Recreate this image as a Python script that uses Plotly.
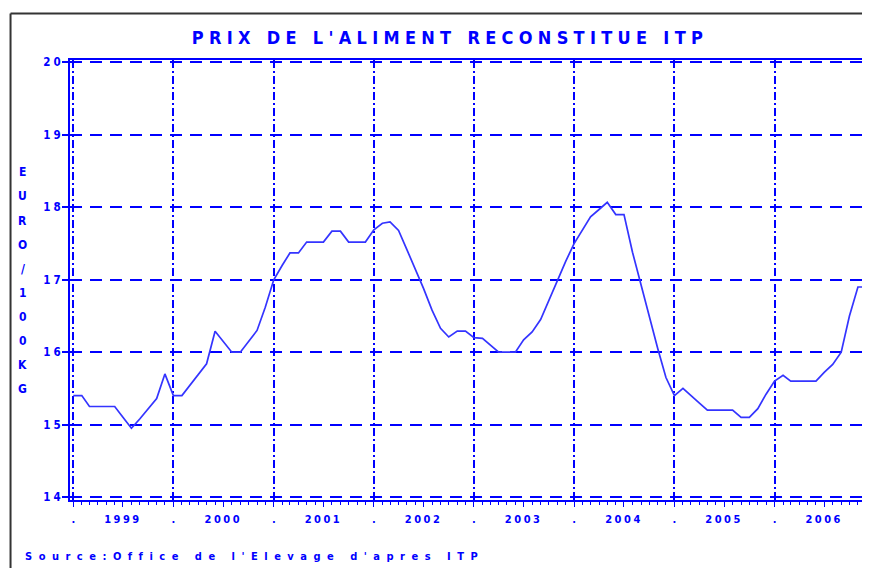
import pandas as pd
import plotly.graph_objects as go

# ---- data (monthly, Jan 1999 .. Dec 2006), EURO / 100 KG ----
months = pd.date_range("1999-01-01", periods=96, freq="MS")
prices = [
    15.40, 15.40, 15.25, 15.25, 15.25, 15.25, 15.10, 14.95, 15.08, 15.22, 15.36, 15.70,  # 1999
    15.40, 15.40, 15.54, 15.69, 15.84, 16.29, 16.15, 16.00, 16.00, 16.15, 16.30, 16.62,  # 2000
    17.00, 17.20, 17.37, 17.37, 17.52, 17.52, 17.52, 17.67, 17.67, 17.52, 17.52, 17.52,  # 2001
    17.69, 17.78, 17.80, 17.68, 17.42, 17.15, 16.88, 16.58, 16.33, 16.21, 16.29, 16.29,  # 2002
    16.20, 16.19, 16.10, 16.00, 16.00, 16.00, 16.17, 16.28, 16.45, 16.72, 17.00, 17.25,  # 2003
    17.50, 17.70, 17.87, 17.97, 18.07, 17.90, 17.90, 17.38, 16.93, 16.50, 16.05, 15.65,  # 2004
    15.40, 15.50, 15.40, 15.30, 15.20, 15.20, 15.20, 15.20, 15.10, 15.10, 15.22, 15.42,  # 2005
    15.60, 15.68, 15.60, 15.60, 15.60, 15.60, 15.72, 15.83, 16.00, 16.50, 16.90, 16.90,  # 2006
]
years = [1999, 2000, 2001, 2002, 2003, 2004, 2005, 2006]
y_ticks = [14, 15, 16, 17, 18, 19, 20]
title_text = "PRIX DE L'ALIMENT RECONSTITUE ITP"
y_title = "EURO/100KG"
source_text = "Source:Office de l'Elevage d'apres ITP"

BLUE = "#0000ff"
FONT = "Liberation Sans Narrow, DejaVu Sans Condensed, Liberation Sans, Arial"

# the page body has an 8px margin: the figure is sized to the visible area
W, H = 862, 560
OFF = 8  # screen offset of the figure


def spaced(s, px):
    return '<span style="letter-spacing:%spx">%s</span>' % (px, s)


x_tickvals, x_ticktext = [], []
for yr in years:
    x_tickvals += [f"{yr}-01-01", f"{yr}-07-01"]
    x_ticktext += [".", spaced(str(yr), 2.5)]

x_range = ["1998-12-20", "2006-12-15"]
y_range = [13.959, 20.034]

L, T, B = 69.5 - OFF, 59.5 - OFF, H - (500 - OFF)
PW, PH = W - L, H - T - B


def px_to_paper_x(sx):
    return (sx - OFF - L) / PW


def px_to_paper_y(sy):
    return 1 - (sy - OFF - T) / PH


fig = go.Figure()
fig.add_trace(go.Scatter(
    x=months, y=prices, mode="lines",
    line=dict(color="#3434ff", width=1.7),
    hoverinfo="skip", showlegend=False,
))
# helper trace to activate the overlay axes (grid / inner ticks)
fig.add_trace(go.Scatter(
    x=[months[0]], y=[prices[0]], mode="lines", xaxis="x2", yaxis="y2",
    line=dict(width=0), hoverinfo="skip", showlegend=False,
))

fig.update_layout(
    width=W, height=H,
    margin=dict(l=L, r=0, t=T, b=B, autoexpand=False),
    paper_bgcolor="white", plot_bgcolor="white",
    font=dict(family=FONT, color=BLUE, size=11),
    title=dict(
        text="<b>" + spaced(title_text, 5.3) + "</b>",
        x=(450 - OFF) / W, xref="container", xanchor="center",
        y=1 - (38 - OFF) / H, yref="container", yanchor="middle",
        font=dict(family=FONT, size=18, color=BLUE),
    ),
    xaxis=dict(
        type="date", range=x_range,
        showgrid=False, zeroline=False,
        showline=True, linecolor=BLUE, linewidth=2, mirror=True,
        tickmode="array", tickvals=x_tickvals, ticktext=x_ticktext,
        ticks="outside", ticklen=5, tickwidth=1, tickcolor=BLUE,
        minor=dict(ticks="outside", ticklen=3, tickwidth=1, tickcolor=BLUE,
                   dtick="M1", tick0="1999-01-01", showgrid=False),
        tickfont=dict(family=FONT, size=11, color=BLUE, weight="bold"),
        ticklabelstandoff=3,
    ),
    xaxis2=dict(
        type="date", range=x_range, overlaying="x", side="top",
        showticklabels=False, ticks="", showline=False, zeroline=False,
        tickmode="array", tickvals=[f"{yr}-01-01" for yr in years],
        showgrid=True, gridcolor=BLUE, gridwidth=1.6, griddash="8px,3px,2px,3px",
    ),
    yaxis=dict(
        range=y_range, zeroline=False,
        showline=True, linecolor=BLUE, linewidth=2, mirror=False,
        tickmode="array", tickvals=y_ticks,
        ticktext=[spaced(str(v), 3) for v in y_ticks],
        ticks="outside", ticklen=6, tickwidth=2, tickcolor=BLUE,
        showgrid=True, gridcolor=BLUE, gridwidth=2, griddash="12px,8px",
        tickfont=dict(family=FONT, size=11.5, color=BLUE, weight="bold"),
        ticklabelstandoff=-4,
    ),
    yaxis2=dict(
        range=y_range, overlaying="y", side="left", zeroline=False,
        showgrid=False, showline=False, showticklabels=False,
        tickmode="array", tickvals=y_ticks,
        ticks="inside", ticklen=8, tickwidth=2, tickcolor=BLUE,
    ),
)

# vertical stacked y-axis title
for k, ch in enumerate(y_title):
    fig.add_annotation(
        text="<b>%s</b>" % ch, xref="paper", yref="paper",
        x=px_to_paper_x(22), y=px_to_paper_y(172), yshift=-k * 24.1,
        xanchor="center", yanchor="middle", showarrow=False,
        font=dict(family=FONT, size=12, color=BLUE),
    )

# source line
fig.add_annotation(
    text="<b>" + spaced(source_text, 6.5) + "</b>",
    xref="paper", yref="paper", x=px_to_paper_x(22), y=px_to_paper_y(557),
    xanchor="left", yanchor="middle", showarrow=False,
    font=dict(family=FONT, size=11, color=BLUE),
)

# outer frame: only the left and top edges are inside the picture
frame_x0, frame_y1 = px_to_paper_x(10), px_to_paper_y(13)
fig.add_shape(type="line", xref="paper", yref="paper",
              x0=frame_x0, x1=frame_x0, y0=px_to_paper_y(580), y1=frame_y1,
              line=dict(color="#333333", width=2), layer="below")
fig.add_shape(type="line", xref="paper", yref="paper",
              x0=frame_x0, x1=px_to_paper_x(880), y0=frame_y1, y1=frame_y1,
              line=dict(color="#333333", width=2), layer="below")

fig.write_html("out.html")
